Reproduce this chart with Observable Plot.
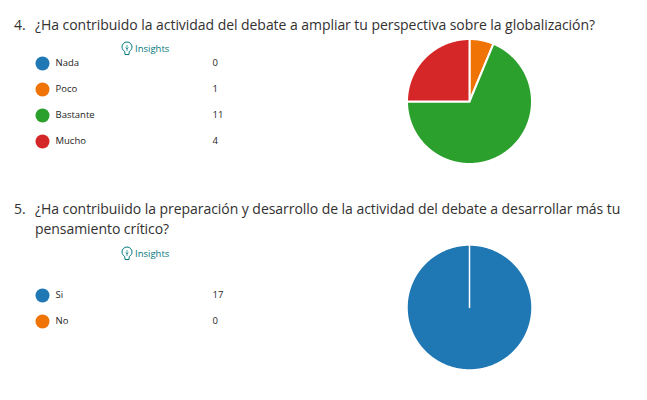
<!DOCTYPE html>
<html lang="es"><head><meta charset="utf-8">
<script src="https://cdn.jsdelivr.net/npm/d3@7"></script>
<script src="https://cdn.jsdelivr.net/npm/@observablehq/plot@0.6"></script>
<style>
html,body{margin:0;padding:0;background:#fff;overflow:hidden}
#page{position:relative;width:647px;height:400px;font-family:"Open Sans",sans-serif;color:#333}
.q{position:absolute;left:14px;font-size:14px;line-height:20px;letter-spacing:-.05px;color:#323130}
.q b{font-weight:400;position:absolute;left:0}
.q span{display:block;margin-left:21px}
.ins{position:absolute;font-size:9.5px;color:#03787c;display:flex;align-items:center;gap:2px}
svg{display:block;overflow:visible}
</style></head><body><div id="page"></div>
<script>
const q4Text = "¿Ha contribuido la actividad del debate a ampliar tu perspectiva sobre la globalización?";
const q5Text = "¿Ha contribuiido la preparación y desarrollo de la actividad del debate a desarrollar más tu pensamiento crítico?";
const q4Categories = ["Nada", "Poco", "Bastante", "Mucho"];
const q4Values = [0, 1, 11, 4];
const q4Colors = ["#1f77b4", "#f07305", "#2ca02c", "#d62728"];
const q5Categories = ["Si", "No"];
const q5Values = [17, 0];
const q5Colors = ["#1f77b4", "#f07305"];
const insightsLabel = "Insights";

const page = document.getElementById("page");

function slices(cats, vals) {
  const arcs = d3.pie().sort(null)(vals);
  const pts = [];
  arcs.forEach((a, i) => {
    if (vals[i] === 0) return;
    pts.push({cat: cats[i], x: 0, y: 0});
    const n = Math.max(2, Math.ceil((a.endAngle - a.startAngle) * 90));
    for (let k = 0; k <= n; k++) {
      const t = a.startAngle + (a.endAngle - a.startAngle) * k / n;
      pts.push({cat: cats[i], x: Math.sin(t), y: Math.cos(t)});
    }
    pts.push({cat: cats[i], x: 0, y: 0});
  });
  return pts;
}

function pie(cats, vals, colors, top, sw) {
  const f = 65 / 62.5;
  const svg = Plot.plot({
    width: 130, height: 130, margin: 0,
    x: {domain: [-f, f], axis: null},
    y: {domain: [-f, f], axis: null},
    color: {domain: cats, range: colors},
    marks: [Plot.line(slices(cats, vals), {x: "x", y: "y", fill: "cat", stroke: "white", strokeWidth: sw, z: "cat", curve: "linear"})]
  });
  svg.style.cssText = "position:absolute;left:404px;top:" + top + "px;background:none";
  page.appendChild(svg);
}

function legend(cats, vals, colors, range) {
  const rows = cats.map((c, i) => ({cat: c, val: vals[i]}));
  const svg = Plot.plot({
    width: 200, height: 400, margin: 0,
    x: {domain: [0, 200], axis: null},
    y: {type: "point", padding: 0, domain: cats, range, axis: null},
    color: {domain: cats, range: colors},
    marks: [
      Plot.dot(rows, {x: () => 8, y: "cat", r: 7, fill: "cat"}),
      Plot.text(rows, {x: () => 21, y: "cat", dy: -0.5, text: "cat", textAnchor: "start", fill: "#252423", fontSize: 9.5, fontFamily: '"Open Sans",sans-serif'}),
      Plot.text(rows, {x: () => 178, y: "cat", dy: -0.5, text: d => String(d.val), textAnchor: "start", fill: "#252423", fontSize: 9.5, fontFamily: '"Open Sans",sans-serif'})
    ]
  });
  svg.style.cssText = "position:absolute;left:34px;top:0;background:none";
  page.appendChild(svg);
}

function question(num, text, top, width) {
  const d = document.createElement("div");
  d.className = "q";
  d.style.top = top + "px";
  d.style.width = width + "px";
  const b = document.createElement("b"); b.textContent = num + ".";
  const s = document.createElement("span"); s.textContent = text;
  d.append(b, s);
  page.appendChild(d);
}

function insights(top) {
  const d = document.createElement("div");
  d.className = "ins";
  d.style.left = "121px";
  d.style.top = top + "px";
  d.innerHTML = '<svg width="12" height="15" viewBox="0 0 12 15" fill="none" stroke="#03787c" stroke-width="1"><path d="M3.7 10.5C2.4 9.6 1 8.2 1 6a5 5 0 0 1 10 0c0 2.2-1.4 3.6-2.7 4.5L8 13.5H4z"/><path d="M6 4v6M4.5 6.5 6 8l1.5-1.5" stroke-width=".7"/></svg>';
  const t = document.createElement("span"); t.textContent = insightsLabel;
  d.appendChild(t);
  page.appendChild(d);
}

question(4, q4Text, 15, 612);
question(5, q5Text, 199, 612);
insights(41);
insights(246);
legend(q4Categories, q4Values, q4Colors, [62, 142]);
legend(q5Categories, q5Values, q5Colors, [295, 321]);
pie(q4Categories, q4Values, q4Colors, 36, 2);
pie(q5Categories, q5Values, q5Colors, 242, 1.5);
</script></body></html>
